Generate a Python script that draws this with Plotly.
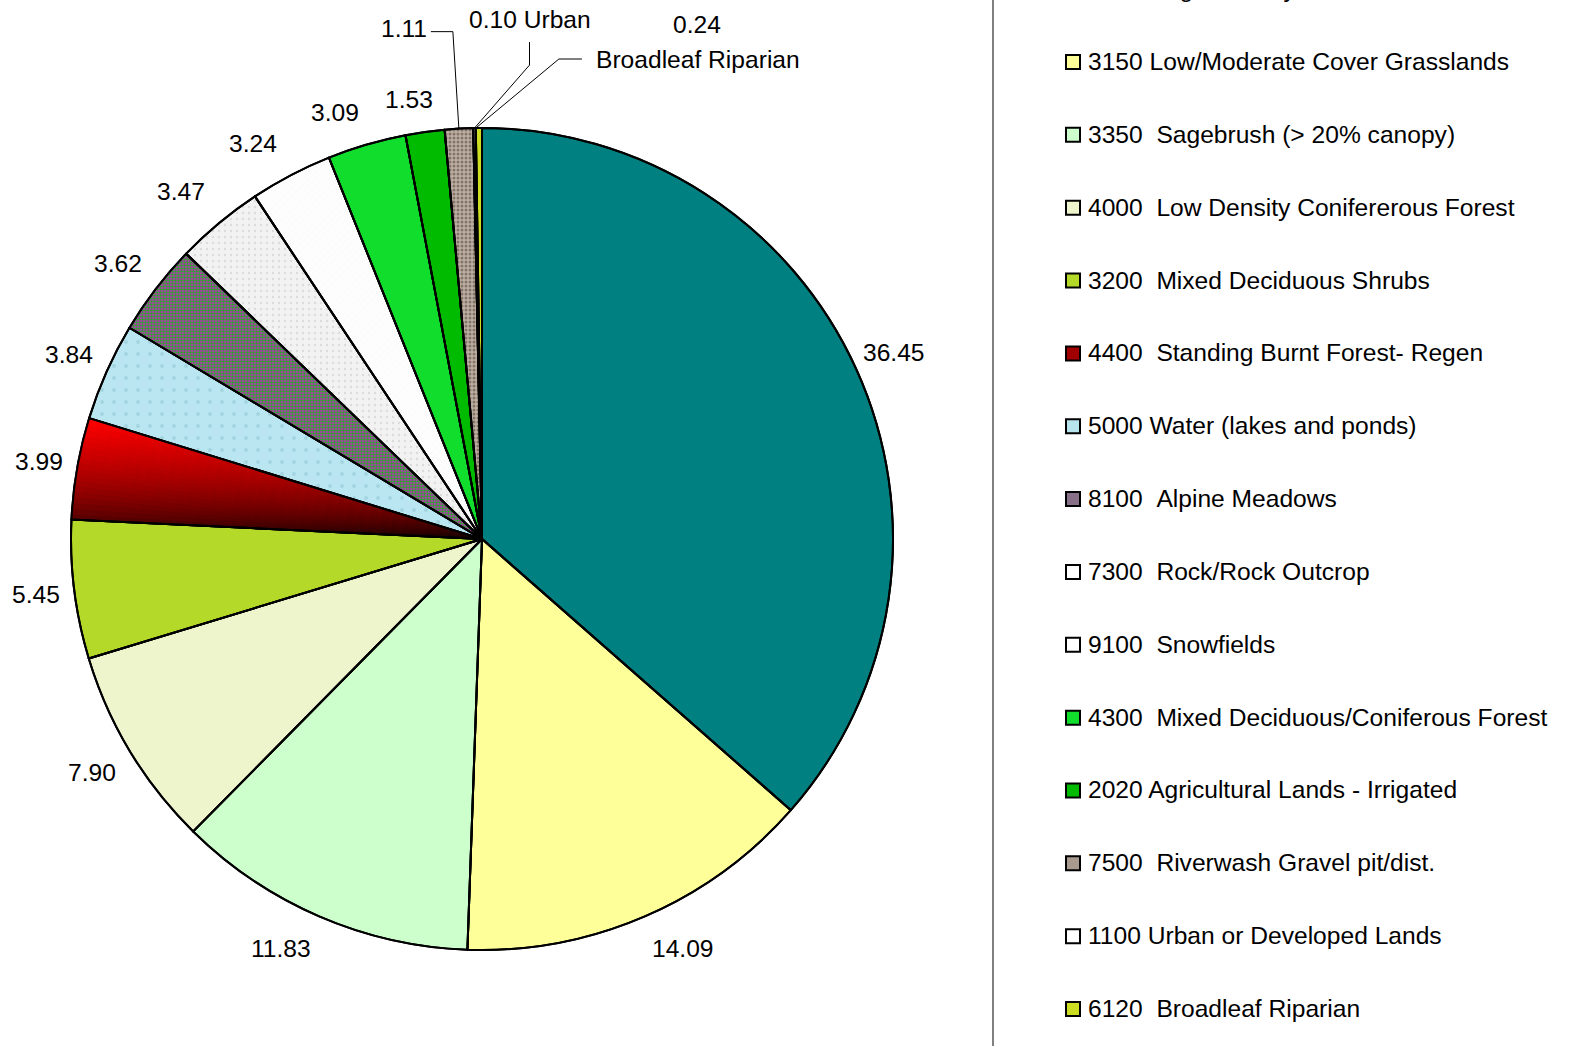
import numpy as np
import plotly.graph_objects as go

# ---- data -----------------------------------------------------------------
legend_labels = [
    "4200  High Density Conifererous Forest",
    "3150 Low/Moderate Cover Grasslands",
    "3350  Sagebrush (> 20% canopy)",
    "4000  Low Density Conifererous Forest",
    "3200  Mixed Deciduous Shrubs",
    "4400  Standing Burnt Forest- Regen",
    "5000 Water (lakes and ponds)",
    "8100  Alpine Meadows",
    "7300  Rock/Rock Outcrop",
    "9100  Snowfields",
    "4300  Mixed Deciduous/Coniferous Forest",
    "2020 Agricultural Lands - Irrigated",
    "7500  Riverwash Gravel pit/dist.",
    "1100 Urban or Developed Lands",
    "6120  Broadleaf Riparian",
]
shares = [36.45, 14.09, 11.83, 7.90, 5.45, 3.99, 3.84, 3.62, 3.47, 3.24,
          3.09, 1.53, 1.11, 0.10, 0.24]
short_names = ["", "", "", "", "", "", "", "", "", "", "", "", "", "Urban",
               "Broadleaf Riparian"]

slice_colors = ["#008080", "#ffff99", "#ccffcc", "#eef4cc", "#b4d928",
                "#e00000", "#b9e6f0", "#c828c8", "#f2f2f2", "#fdfdfd",
                "#11dd2d", "#00bb00", "#bcb0a6", "#ffffff", "#ccdd22"]
legend_colors = ["#008080", "#ffff99", "#ccffcc", "#eef4cc", "#b4d928",
                 "#a00000", "#b8e4ee", "#887088", "#ffffff", "#ffffff",
                 "#11dd2d", "#00bb00", "#a89a8e", "#ffffff", "#ccdd22"]
pattern_shape = ["", "", "", "", "", "", ".", ".", ".", "/", "", "", ".", "", ""]
pattern_fg = ["#000", "#000", "#000", "#000", "#000", "#000", "#a3d4e0",
              "#28a828", "#dcdcdc", "#ececec", "#000", "#000", "#857364",
              "#000", "#000"]
pattern_size = [8, 8, 8, 8, 8, 8, 12, 3, 6, 5, 8, 8, 4, 8, 8]
pattern_solid = [0.3, 0.3, 0.3, 0.3, 0.3, 0.3, 0.08, 0.55, 0.12, 0.04,
                 0.3, 0.3, 0.45, 0.3, 0.3]

# ---- geometry (pixels) ----------------------------------------------------
W, H = 1572, 1046
CX, CY, R = 482, 539, 411
FONT = "Liberation Sans, Arial, sans-serif"
FSIZE = 24.6


def px(x):
    return x / W


def py(y):
    return 1 - y / H


def domain(r):
    return dict(x=[px(CX - r), px(CX + r)], y=[py(CY + r), py(CY - r)])


def polar(frac_angle, r):
    a = 2 * np.pi * frac_angle
    return CX + r * np.sin(a), CY - r * np.cos(a)


total = sum(shares)
cum = np.cumsum([0] + shares)
mid_frac = [(cum[i] + shares[i] / 2) / total for i in range(len(shares))]

fig = go.Figure()

# main pie
fig.add_trace(go.Pie(
    values=shares, labels=legend_labels, sort=False, direction="clockwise",
    rotation=0, textinfo="none", showlegend=False, domain=domain(R),
    hovertemplate="%{label}: %{value:.2f}<extra></extra>",
    marker=dict(colors=slice_colors, line=dict(color="black", width=2),
                pattern=dict(shape=pattern_shape, fgcolor=pattern_fg,
                             bgcolor=slice_colors, size=pattern_size,
                             solidity=pattern_solid)),
))

# red -> black vertical shading on the burnt-forest slice, built from rings
burnt = 5
n_rings, n_parts = 36, 18
a0, a1 = cum[burnt] / total, cum[burnt + 1] / total
y_top = polar(a1, R)[1]
y_bot = CY
for k in range(n_rings):
    r_in, r_out = R * k / n_rings, R * (k + 1) / n_rings
    vals, cols, labs = [], [], []
    for i, v in enumerate(shares):
        if i == burnt:
            for j in range(n_parts):
                fa = a0 + (a1 - a0) * (j + 0.5) / n_parts
                yy = polar(fa, (r_in + r_out) / 2)[1]
                t = np.clip((y_bot - yy) / (y_bot - y_top), 0, 1) ** 0.6
                cols.append(f"rgb({int(255 * t)},0,0)")
                vals.append(v / n_parts)
                labs.append(f"s{k}-{i}-{j}")
        else:
            vals.append(v)
            cols.append("rgba(0,0,0,0)")
            labs.append(f"s{k}-{i}")
    fig.add_trace(go.Pie(
        values=vals, labels=labs, sort=False, direction="clockwise",
        rotation=0, textinfo="none", showlegend=False, hoverinfo="skip",
        domain=domain(r_out), hole=(r_in / r_out) if k else 0,
        marker=dict(colors=cols, line=dict(color=cols, width=1)),
    ))

# outline drawn on top
fig.add_trace(go.Pie(
    values=shares, labels=[f"o{i}" for i in range(len(shares))], sort=False,
    direction="clockwise", rotation=0, textinfo="none", showlegend=False,
    hoverinfo="skip", domain=domain(R),
    marker=dict(colors=["rgba(0,0,0,0)"] * len(shares),
                line=dict(color="black", width=2)),
))

annotations = []
shapes = []
txt = dict(family=FONT, size=FSIZE, color="black")

# value labels just outside the rim
for i, v in enumerate(shares[:12]):
    a = 2 * np.pi * mid_frac[i]
    ex, ey = polar(mid_frac[i], R)
    dx = 38 * np.clip(3 * np.sin(a), -1, 1)
    dy = 32 * np.clip(-1.3 * np.cos(a), -1, 1)
    annotations.append(dict(x=px(ex + dx), y=py(ey + dy), xref="paper",
                            yref="paper", text=f"{v:.2f}", showarrow=False,
                            font=txt, xanchor="center", yanchor="middle"))

# small slices at the top, labelled with leader lines
leaders = {
    12: dict(path=[(-6, -97), (-28, -97)], text=(-30, -100), anchor="right",
             label=lambda i: f"{shares[i]:.2f}"),
    13: dict(path=[(55, -63), (55, -86)], text=(55, -109), anchor="center",
             label=lambda i: f"{shares[i]:.2f} {short_names[i]}"),
}
for i, spec in leaders.items():
    ax, ay = polar(mid_frac[i], R)
    pts = [(ax, ay)] + [(ax + dx, ay + dy) for dx, dy in spec["path"]]
    d = "M " + " L ".join(f"{px(a)} {py(b)}" for a, b in pts)
    shapes.append(dict(type="path", path=d, xref="paper", yref="paper",
                       line=dict(color="black", width=1)))
    tx, ty = ax + spec["text"][0], ay + spec["text"][1]
    annotations.append(dict(x=px(tx), y=py(ty), xref="paper", yref="paper",
                            text=spec["label"](i), showarrow=False, font=txt,
                            xanchor=spec["anchor"], yanchor="middle"))

i = 14
ax, ay = polar(mid_frac[i], R)
ax -= 3
pts = [(ax, ay), (ax + 83, ay - 69), (ax + 106, ay - 69)]
d = "M " + " L ".join(f"{px(a)} {py(b)}" for a, b in pts)
shapes.append(dict(type="path", path=d, xref="paper", yref="paper",
                   line=dict(color="black", width=1)))
annotations.append(dict(x=px(ax + 221), y=py(ay - 104), xref="paper",
                        yref="paper", text=f"{shares[i]:.2f}", showarrow=False,
                        font=txt, xanchor="center", yanchor="middle"))
annotations.append(dict(x=px(ax + 118), y=py(ay - 69), xref="paper",
                        yref="paper", text=short_names[i], showarrow=False,
                        font=txt, xanchor="left", yanchor="middle"))

# legend panel
shapes.append(dict(type="line", xref="paper", yref="paper", x0=px(993),
                   x1=px(993), y0=0, y1=1,
                   line=dict(color="#808080", width=2)))
row_gap = 72.85
row0 = 61.5 - row_gap
for k, (lab, col) in enumerate(zip(legend_labels, legend_colors)):
    yc = row0 + k * row_gap
    shapes.append(dict(type="rect", xref="paper", yref="paper",
                       x0=px(1066), x1=px(1080), y0=py(yc + 7.5), y1=py(yc - 6.5),
                       fillcolor=col, line=dict(color="black", width=2)))
    annotations.append(dict(x=px(1086), y=py(yc), xref="paper", yref="paper",
                            text=lab.replace("  ", "\u00a0\u00a0"),
                            showarrow=False, font=txt, xanchor="left",
                            yanchor="middle"))

fig.update_layout(
    width=W, height=H, margin=dict(l=0, r=0, t=0, b=0),
    paper_bgcolor="white", plot_bgcolor="white", showlegend=False,
    annotations=annotations, shapes=shapes, font=dict(family=FONT),
)

fig.write_html("out.html")
